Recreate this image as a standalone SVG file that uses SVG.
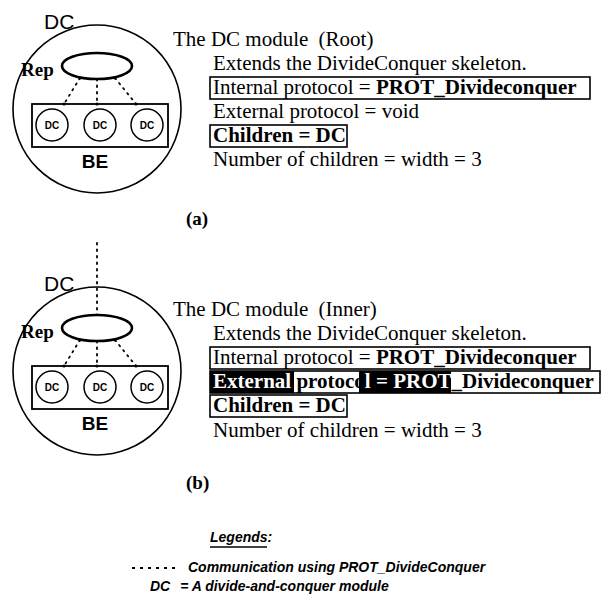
<svg xmlns="http://www.w3.org/2000/svg" width="604" height="603" viewBox="0 0 604 603">
<style>
.ln{fill:none;stroke:#000}
.big{stroke-width:1.6}
.rep{stroke-width:2.6}
.be{stroke-width:1.8}
.sm{stroke-width:1.5}
.dot{fill:none;stroke:#000;stroke-width:1.8;stroke-dasharray:1.5 5;stroke-linecap:round}
.lbl{font-family:"Liberation Sans",Arial,sans-serif;font-size:21px;fill:#000}
.rp{font-family:"Liberation Serif","Times New Roman",serif;font-size:19px;font-weight:bold;fill:#000}
.bel{font-family:"Liberation Sans",Arial,sans-serif;font-size:19px;font-weight:bold;fill:#000;text-anchor:middle}
.dc{font-family:"Liberation Sans",Arial,sans-serif;font-size:10px;font-weight:bold;fill:#000;text-anchor:middle}
.t{font-family:"Liberation Serif","Times New Roman",serif;font-size:21px;fill:#000}
.cap{font-family:"Liberation Serif","Times New Roman",serif;font-size:19px;font-weight:bold;fill:#000}
.box{fill:none;stroke:#000;stroke-width:1.6}
.lg{font-family:"Liberation Sans",Arial,sans-serif;font-size:14px;font-style:italic;font-weight:bold;fill:#000}
</style>
<defs>
<marker id="d" viewBox="0 0 4 4" refX="2" refY="2" markerWidth="4" markerHeight="4" markerUnits="userSpaceOnUse"><circle cx="2" cy="2" r="1.6" fill="#000"/></marker>
</defs>

<!-- (a) Root module -->
<g id="dc-root">
<circle class="ln big" cx="97" cy="109" r="84"/>
<text class="lbl" x="44" y="29">DC</text>
</g>
<g id="rep-a">
<ellipse class="ln rep" cx="97" cy="66" rx="35" ry="13"/>
<text class="rp" x="21" y="76">Rep</text>
</g>
<g id="be-a">
<rect class="ln be" x="32" y="104" width="136" height="43"/>
<text class="bel" x="95" y="168">BE</text>
</g>
<g id="child-a1"><circle class="ln sm" cx="52" cy="125" r="16"/><text class="dc" x="52" y="129">DC</text></g>
<g id="child-a2"><circle class="ln sm" cx="100" cy="125" r="16"/><text class="dc" x="100" y="129">DC</text></g>
<g id="child-a3"><circle class="ln sm" cx="147" cy="125" r="16"/><text class="dc" x="147" y="129">DC</text></g>

<g id="text-a">
<text class="t" x="173" y="46">The DC module <tspan dx="5">(Root)</tspan></text>
<text class="t" x="213" y="70">Extends the DivideConquer skeleton.</text>
<rect class="box" x="210" y="77" width="380" height="22"/>
<text class="t" x="213" y="94">Internal protocol = <tspan font-weight="bold">PROT_Divideconquer</tspan></text>
<text class="t" x="213" y="118">External protocol = void</text>
<rect class="box" x="210" y="125" width="137" height="22"/>
<text class="t" x="213" y="142" font-weight="bold">Children = DC</text>
<text class="t" x="213" y="166">Number of children = width = 3</text>
<text class="cap" x="186" y="225">(a)</text>
</g>

<!-- (b) Inner module -->
<g id="dc-inner">
<circle class="ln big" cx="97" cy="371" r="84"/>
<text class="lbl" x="44" y="291">DC</text>
</g>
<g id="rep-b">
<ellipse class="ln rep" cx="97" cy="328" rx="35" ry="13"/>
<text class="rp" x="21" y="338">Rep</text>
</g>
<g id="be-b">
<rect class="ln be" x="32" y="366" width="136" height="43"/>
<text class="bel" x="95" y="430">BE</text>
</g>
<g id="child-b1"><circle class="ln sm" cx="52" cy="387" r="16"/><text class="dc" x="52" y="391">DC</text></g>
<g id="child-b2"><circle class="ln sm" cx="100" cy="387" r="16"/><text class="dc" x="100" y="391">DC</text></g>
<g id="child-b3"><circle class="ln sm" cx="147" cy="387" r="16"/><text class="dc" x="147" y="391">DC</text></g>

<g id="text-b">
<text class="t" x="173" y="316">The DC module <tspan dx="5">(Inner)</tspan></text>
<text class="t" x="213" y="340">Extends the DivideConquer skeleton.</text>
<rect class="box" x="210" y="347" width="380" height="22"/>
<text class="t" x="213" y="364">Internal protocol = <tspan font-weight="bold">PROT_Divideconquer</tspan></text>
<rect class="box" x="210" y="371" width="390" height="22"/>
<rect x="210" y="371" width="84" height="22" fill="#000"/>
<rect x="359" y="371" width="92" height="22" fill="#000"/>
<text class="t" x="213" y="388" font-weight="bold"><tspan fill="#fff">External</tspan> protoco<tspan fill="#fff">l = PROT</tspan>_Divideconquer</text>
<rect class="box" x="210" y="395" width="137" height="22"/>
<text class="t" x="213" y="412" font-weight="bold">Children = DC</text>
<text class="t" x="213" y="437">Number of children = width = 3</text>
<text class="cap" x="186" y="489">(b)</text>
</g>

<!-- connectors -->
<g id="connectors">
<path class="dot" d="M80 78 L64 104" marker-start="url(#d)" marker-end="url(#d)"/>
<path class="dot" d="M97 79 L97 104" marker-end="url(#d)"/>
<path class="dot" d="M115 78 L136 104" marker-start="url(#d)" marker-end="url(#d)"/>
<path class="dot" d="M97 243 L97 315"/>
<path class="dot" d="M80 340 L64 366" marker-start="url(#d)" marker-end="url(#d)"/>
<path class="dot" d="M97 341 L97 366" marker-end="url(#d)"/>
<path class="dot" d="M115 340 L136 366" marker-start="url(#d)" marker-end="url(#d)"/>
</g>

<!-- legend -->
<g id="legend">
<text class="lg" x="210" y="542">Legends:</text>
<line x1="210" y1="547" x2="267" y2="547" stroke="#000" stroke-width="1.5"/>
<line x1="132" y1="568" x2="176" y2="568" stroke="#000" stroke-width="1.8" stroke-dasharray="3 5"/>
<text class="lg" x="188" y="572">Communication using PROT_DivideConquer</text>
<text class="lg" x="150" y="591">DC <tspan dx="6">= A divide-and-conquer module</tspan></text>
</g>
</svg>
